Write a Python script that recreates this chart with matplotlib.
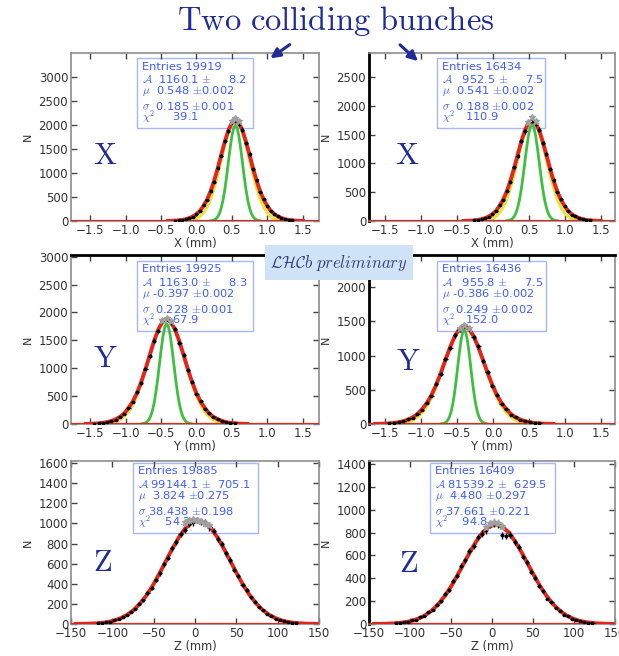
import numpy as np
import matplotlib
matplotlib.use("Agg")
import matplotlib.pyplot as plt
from matplotlib.patches import Rectangle

plt.rcParams['font.family'] = ['DejaVu Sans']
plt.rcParams['mathtext.fontset'] = 'cm'

#-------------------------------------------------------------------------------
# values
#-------------------------------------------------------------------------------

### X, bunch 1 (top left) ------------------------------------------------------
x1_centre = 0.55
x1_step = 0.05
x1_counts = [1, 3, 9, 12, 26, 35, 66, 90, 150, 204, 330, 430, 632, 820, 1110,
             1360, 1672, 1870, 2060, 2095, 2030, 1905, 1630, 1392, 1080, 850,
             605, 458, 310, 218, 136, 99, 57, 40, 20, 15, 6, 3, 1]
x1_fit = [2, 4, 8, 14, 23, 38, 61, 95, 143, 210, 317, 445, 617, 838, 1094, 1376,
          1651, 1886, 2043, 2100, 2043, 1886, 1651, 1376, 1094, 838, 617, 445,
          317, 210, 143, 95, 61, 38, 23, 14, 8, 4, 2]
x1_yellow_step = 0.05
x1_yellow = [5, 11, 23, 48, 92, 167, 284, 454, 682, 961, 1274, 1585, 1853, 2035,
             2100, 2035, 1853, 1585, 1274, 961, 682, 454, 284, 167, 92, 48, 23,
             11, 5]
x1_green_step = 0.025
x1_green = [4, 10, 22, 46, 88, 159, 271, 433, 649, 916, 1213, 1510, 1765, 1938,
            2000, 1938, 1765, 1510, 1213, 916, 649, 433, 271, 159, 88, 46, 22,
            10, 4]
x1_peak_x = [0.50, 0.55, 0.60]
x1_peak_n = [2080, 2140, 2090]
x1_stats = ["Entries 19919", r"$\mathcal{A}$  1160.1 $\pm$     8.2",
            r"$\mu$  0.548 $\pm$0.002", r"$\sigma$  0.185 $\pm$0.001",
            r"$\chi^2$     39.1"]

### X, bunch 2 (top right) -----------------------------------------------------
x2_centre = 0.54
x2_step = 0.05
x2_counts = [1, 3, 7, 10, 22, 30, 55, 74, 126, 168, 275, 360, 530, 684, 930,
             1130, 1395, 1560, 1720, 1745, 1690, 1590, 1360, 1160, 898, 712,
             505, 380, 256, 182, 112, 84, 47, 34, 17, 12, 5, 3, 1]
x2_fit = [2, 4, 6, 11, 19, 32, 51, 79, 119, 175, 264, 371, 515, 698, 912, 1146,
          1376, 1572, 1703, 1750, 1703, 1572, 1376, 1146, 912, 698, 515, 371,
          264, 175, 119, 79, 51, 32, 19, 11, 6, 4, 2]
x2_yellow_step = 0.05
x2_yellow = [4, 9, 19, 40, 77, 139, 237, 379, 568, 801, 1061, 1321, 1544, 1696,
             1750, 1696, 1544, 1321, 1061, 801, 568, 379, 237, 139, 77, 40, 19,
             9, 4]
x2_green_step = 0.025
x2_green = [4, 9, 19, 38, 74, 134, 227, 363, 545, 769, 1019, 1268, 1483, 1628,
            1680, 1628, 1483, 1268, 1019, 769, 545, 363, 227, 134, 74, 38, 19,
            9, 4]
x2_peak_x = [0.49, 0.54, 0.59]
x2_peak_n = [1715, 1800, 1730]
x2_stats = ["Entries 16434", r"$\mathcal{A}$   952.5 $\pm$     7.5",
            r"$\mu$  0.541 $\pm$0.002", r"$\sigma$  0.188 $\pm$0.002",
            r"$\chi^2$   110.9"]

### Y, bunch 1 (middle left) ---------------------------------------------------
y1_centre = -0.42
y1_step = 0.06
y1_counts = [1, 4, 8, 11, 24, 31, 58, 80, 134, 180, 295, 390, 565, 735, 995,
             1215, 1495, 1670, 1850, 1890, 1815, 1700, 1460, 1245, 965, 760,
             540, 410, 276, 195, 122, 88, 51, 36, 19, 13, 6, 3, 1]
y1_fit = [2, 4, 7, 12, 21, 34, 55, 85, 128, 188, 284, 399, 553, 750, 979, 1231,
          1478, 1688, 1829, 1880, 1829, 1688, 1478, 1231, 979, 750, 553, 399,
          284, 188, 128, 85, 55, 34, 21, 12, 7, 4, 2]
y1_yellow_step = 0.065
y1_yellow = [4, 9, 21, 43, 83, 150, 254, 407, 610, 861, 1140, 1419, 1659, 1822,
             1880, 1822, 1659, 1419, 1140, 861, 610, 407, 254, 150, 83, 43, 21,
             9, 4]
y1_green_step = 0.025
y1_green = [4, 9, 20, 41, 79, 143, 244, 389, 584, 824, 1092, 1359, 1589, 1745,
            1800, 1745, 1589, 1359, 1092, 824, 584, 389, 244, 143, 79, 41, 20,
            9, 4]
y1_peak_x = [-0.48, -0.42, -0.36]
y1_peak_n = [1860, 1900, 1850]
y1_stats = ["Entries 19925", r"$\mathcal{A}$  1163.0 $\pm$     8.3",
            r"$\mu$ -0.397 $\pm$0.002", r"$\sigma$  0.228 $\pm$0.001",
            r"$\chi^2$     67.9"]

### Y, bunch 2 (middle right) --------------------------------------------------
y2_centre = -0.40
y2_step = 0.065
y2_counts = [1, 2, 6, 10, 14, 28, 38, 68, 92, 150, 208, 312, 410, 585, 730, 950,
             1110, 1295, 1380, 1440, 1400, 1270, 1135, 925, 760, 560, 430, 295,
             222, 138, 101, 60, 44, 24, 17, 8, 5, 2, 1]
y2_fit = [1, 3, 5, 9, 16, 26, 41, 64, 97, 143, 216, 303, 420, 571, 745, 937,
          1124, 1284, 1391, 1430, 1391, 1284, 1124, 937, 745, 571, 420, 303,
          216, 143, 97, 64, 41, 26, 16, 9, 5, 3, 1]
y2_yellow_step = 0.07
y2_yellow = [3, 7, 16, 33, 63, 114, 193, 309, 464, 655, 867, 1079, 1262, 1386,
             1430, 1386, 1262, 1079, 867, 655, 464, 309, 193, 114, 63, 33, 16,
             7, 3]
y2_green_step = 0.0225
y2_green = [3, 7, 15, 31, 61, 110, 187, 298, 448, 632, 837, 1042, 1218, 1337,
            1380, 1337, 1218, 1042, 837, 632, 448, 298, 187, 110, 61, 31, 15,
            7, 3]
y2_peak_x = [-0.465, -0.40, -0.335]
y2_peak_n = [1400, 1450, 1410]
y2_stats = ["Entries 16436", r"$\mathcal{A}$   955.8 $\pm$     7.5",
            r"$\mu$ -0.386 $\pm$0.002", r"$\sigma$  0.249 $\pm$0.002",
            r"$\chi^2$   152.0"]

### Z, both bunches (bottom row), 5 mm bins ------------------------------------
z_bins = np.arange(-122.5, 128.0, 5.0)
z_fit_step = 7.8

z1_counts = [5, 9, 11, 19, 24, 37, 47, 70, 86, 121, 148, 200, 238, 306, 357,
             441, 503, 594, 660, 752, 815, 894, 938, 995, 1010, 1034, 1018,
             1012, 960, 925, 848, 792, 702, 636, 541, 478, 392, 338, 265, 222,
             168, 138, 99, 81, 54, 44, 28, 22, 14, 11, 6]
z1_centre = 3.8
z1_fit = [1, 2, 3, 6, 11, 20, 35, 58, 92, 139, 204, 286, 386, 502, 625, 748,
          860, 951, 1009, 1030, 1009, 951, 860, 748, 625, 502, 386, 286, 204,
          139, 92, 58, 35, 20, 11, 6, 3, 2, 1]
z1_peak_x = [-12.5, -7.5, -2.5, 2.5, 7.5, 12.5, 17.5]
z1_peak_n = [1010, 1030, 1040, 1035, 1025, 1000, 985]
z1_stats = ["Entries 19885", r"$\mathcal{A}$ 99144.1 $\pm$  705.1",
            r"$\mu$  3.824 $\pm$0.275", r"$\sigma$ 38.438 $\pm$0.198",
            r"$\chi^2$    54.2"]

z2_counts = [4, 8, 9, 16, 20, 32, 39, 60, 72, 104, 124, 170, 198, 262, 300, 378,
             422, 508, 556, 642, 684, 762, 790, 818, 868, 880, 872, 775, 770,
             782, 715, 672, 590, 540, 458, 405, 330, 288, 222, 190, 140, 118, 83,
             70, 45, 38, 23, 19, 11, 9, 5]
z2_centre = 4.5
z2_fit = [1, 1, 3, 5, 10, 17, 30, 49, 77, 118, 172, 242, 326, 424, 528, 632,
          726, 803, 853, 870, 853, 803, 726, 632, 528, 424, 326, 242, 172, 118,
          77, 49, 30, 17, 10, 5, 3, 1, 1]
z2_peak_x = [-7.5, -2.5, 2.5, 7.5, 12.5]
z2_peak_n = [850, 880, 895, 885, 860]
z2_stats = ["Entries 16409", r"$\mathcal{A}$ 81539.2 $\pm$  629.5",
            r"$\mu$  4.480 $\pm$0.297", r"$\sigma$ 37.661 $\pm$0.221",
            r"$\chi^2$    94.8"]

#-------------------------------------------------------------------------------
# styling
#-------------------------------------------------------------------------------
RED = '#e3261b'
YELLOW = '#e6e63c'
GREEN = '#3fbf3f'
GREY = '#a0a0a0'
NAVY = '#1f2b98'
STAT_TXT = '#3d5cff'
STAT_EDGE = '#a8b6ff'
SPINE = '#8c8c8c'

W, H = 619, 656


def samples(centre, step, values):
    half = len(values) // 2
    return centre + step * (np.arange(len(values)) - half)


def px_axes(x0, y0, x1, y1):
    # axes rectangle given in picture pixels (top-left origin)
    return [x0 / W, 1 - y1 / H, (x1 - x0) / W, (y1 - y0) / H]


fig = plt.figure(figsize=(W / 100, H / 100), dpi=100)

panels = [
    dict(rect=(71, 53, 319, 221), xlim=(-1.77, 1.73), ylim=(0, 3500),
         xt=np.arange(-1.5, 1.6, 0.5), yt=np.arange(0, 3001, 500),
         xlabel='X (mm)', letter='X', letter_pos=(0.137, 0.39),
         box=(137, 58, 253, 128),
         hx=samples(x1_centre, x1_step, x1_counts), hn=x1_counts, hw=x1_step,
         fx=samples(x1_centre, x1_step, x1_fit), fn=x1_fit,
         yx=samples(x1_centre, x1_yellow_step, x1_yellow), yn=x1_yellow,
         gx=samples(x1_centre, x1_green_step, x1_green), gn=x1_green,
         px=x1_peak_x, pn=x1_peak_n, stats=x1_stats, black=[]),
    dict(rect=(369, 53, 615, 221), xlim=(-1.72, 1.69), ylim=(0, 2920),
         xt=np.arange(-1.5, 1.6, 0.5), yt=np.arange(0, 2501, 500),
         xlabel='X (mm)', letter='X', letter_pos=(0.154, 0.39),
         box=(437, 58, 545, 128),
         hx=samples(x2_centre, x2_step, x2_counts), hn=x2_counts, hw=x2_step,
         fx=samples(x2_centre, x2_step, x2_fit), fn=x2_fit,
         yx=samples(x2_centre, x2_yellow_step, x2_yellow), yn=x2_yellow,
         gx=samples(x2_centre, x2_green_step, x2_green), gn=x2_green,
         px=x2_peak_x, pn=x2_peak_n, stats=x2_stats, black=['left']),
    dict(rect=(71, 255, 319, 424), xlim=(-1.77, 1.73), ylim=(0, 3030),
         xt=np.arange(-1.5, 1.6, 0.5), yt=np.arange(0, 3001, 500),
         xlabel='Y (mm)', letter='Y', letter_pos=(0.137, 0.39),
         box=(137, 261, 253, 331),
         hx=samples(y1_centre, y1_step, y1_counts), hn=y1_counts, hw=y1_step,
         fx=samples(y1_centre, y1_step, y1_fit), fn=y1_fit,
         yx=samples(y1_centre, y1_yellow_step, y1_yellow), yn=y1_yellow,
         gx=samples(y1_centre, y1_green_step, y1_green), gn=y1_green,
         px=y1_peak_x, pn=y1_peak_n, stats=y1_stats, black=['top']),
    dict(rect=(369, 255, 615, 424), xlim=(-1.72, 1.69), ylim=(0, 2470),
         xt=np.arange(-1.5, 1.6, 0.5), yt=np.arange(0, 2001, 500),
         xlabel='Y (mm)', letter='Y', letter_pos=(0.159, 0.37),
         box=(437, 261, 546, 331),
         hx=samples(y2_centre, y2_step, y2_counts), hn=y2_counts, hw=y2_step,
         fx=samples(y2_centre, y2_step, y2_fit), fn=y2_fit,
         yx=samples(y2_centre, y2_yellow_step, y2_yellow), yn=y2_yellow,
         gx=samples(y2_centre, y2_green_step, y2_green), gn=y2_green,
         px=y2_peak_x, pn=y2_peak_n, stats=y2_stats, black=['top', 'left']),
    dict(rect=(71, 461, 319, 624), xlim=(-150, 150), ylim=(0, 1620),
         xt=np.arange(-150, 151, 50), yt=np.arange(0, 1601, 200),
         xlabel='Z (mm)', letter='Z', letter_pos=(0.125, 0.38),
         box=(133, 463, 258, 533),
         hx=z_bins, hn=z1_counts, hw=5.0,
         fx=samples(z1_centre, z_fit_step, z1_fit), fn=z1_fit,
         yx=None, yn=None, gx=None, gn=None,
         px=z1_peak_x, pn=z1_peak_n, stats=z1_stats, black=[]),
    dict(rect=(369, 461, 615, 624), xlim=(-150, 150), ylim=(0, 1426),
         xt=np.arange(-150, 151, 50), yt=np.arange(0, 1401, 200),
         xlabel='Z (mm)', letter='Z', letter_pos=(0.159, 0.37),
         box=(430, 463, 555, 533),
         hx=z_bins, hn=z2_counts, hw=5.0,
         fx=samples(z2_centre, z_fit_step, z2_fit), fn=z2_fit,
         yx=None, yn=None, gx=None, gn=None,
         px=z2_peak_x, pn=z2_peak_n, stats=z2_stats, black=['left']),
]

for p in panels:
    x0, y0, x1, y1 = p['rect']
    ax = fig.add_axes(px_axes(x0, y0, x1, y1))
    wpx, hpx = x1 - x0, y1 - y0

    # statistics box (drawn under the data, as in the original)
    bx0, by0, bx1, by1 = p['box']
    fx0 = (bx0 - x0) / wpx
    fx1 = (bx1 - x0) / wpx
    ftop = (y1 - by0) / hpx
    fbot = (y1 - by1) / hpx
    ax.add_patch(Rectangle((fx0, fbot), fx1 - fx0, ftop - fbot,
                           transform=ax.transAxes, facecolor='white',
                           edgecolor=STAT_EDGE, lw=1.0, zorder=1))
    for line, off in zip(p['stats'], [8.5, 21.5, 33.0, 48.0, 59.0]):
        ax.text(fx0 + 5 / wpx, ftop - off / hpx, line, transform=ax.transAxes,
                fontsize=8.2, color=STAT_TXT, ha='left', va='center', zorder=1.5)

    # fit components
    if p['gx'] is not None:
        ax.plot(p['gx'], p['gn'], color=GREEN, lw=2.0, zorder=2)
        ax.plot(p['yx'], p['yn'], color=YELLOW, lw=2.2, zorder=2.5)
    ax.axhline(0, color=RED, lw=1.6, zorder=2.8)
    ax.plot(p['fx'], p['fn'], color=RED, lw=2.8, zorder=3)

    # measured histogram
    hn = np.asarray(p['hn'], dtype=float)
    keep = hn >= 8
    hx = np.asarray(p['hx'])[keep]
    hn = hn[keep]
    ax.errorbar(hx, hn, xerr=p['hw'] / 2, yerr=np.sqrt(hn), fmt='s', ms=1.6,
                color='k', ecolor='k', elinewidth=1.0, capsize=0, zorder=4)
    ax.errorbar(p['px'], p['pn'], xerr=p['hw'] / 2,
                yerr=np.sqrt(np.asarray(p['pn'], dtype=float)), fmt='*',
                ms=5, color=GREY, ecolor=GREY, elinewidth=1.0, capsize=0,
                zorder=4.5)

    ax.set_xlim(*p['xlim'])
    ax.set_ylim(*p['ylim'])
    ax.set_xticks(p['xt'])
    ax.set_yticks(p['yt'])
    ax.tick_params(direction='in', top=True, right=True, length=4, width=1,
                   color='#444444', labelsize=8.5, labelcolor='#333333', pad=2)
    ax.set_xlabel(p['xlabel'], fontsize=8.3, color='#333333', labelpad=0)
    ax.set_ylabel('N', fontsize=8, color='#333333', labelpad=4)
    for side, sp in ax.spines.items():
        if side in p['black']:
            sp.set_color('black')
            sp.set_linewidth(2.0)
        else:
            sp.set_color(SPINE)
            sp.set_linewidth(1.2)

    # big coordinate letter
    ax.text(p['letter_pos'][0], p['letter_pos'][1], r'$\mathrm{%s}$' % p['letter'],
            transform=ax.transAxes, fontsize=22, color=NAVY,
            ha='center', va='center', zorder=6)

# overlay in picture pixels: title, arrows, LHCb tag
ov = fig.add_axes([0, 0, 1, 1], zorder=10)
ov.set_xlim(0, W)
ov.set_ylim(H, 0)
ov.axis('off')
ov.patch.set_alpha(0)

ov.text(336, 21, r'$\mathrm{Two\ colliding\ bunches}$', fontsize=23.5,
        color=NAVY, ha='center', va='center')
ov.annotate('', xy=(268, 60), xytext=(292, 43),
            arrowprops=dict(arrowstyle='-|>', color=NAVY, lw=2.2,
                            mutation_scale=14))
ov.annotate('', xy=(420, 63), xytext=(398, 43),
            arrowprops=dict(arrowstyle='-|>', color=NAVY, lw=2.2,
                            mutation_scale=14))
ov.add_patch(Rectangle((265, 245), 148, 35, facecolor='#d0e3f6',
                       edgecolor='none'))
ov.text(339, 263, r'$\mathcal{LHC}b\ \mathit{preliminary}$', fontsize=12,
        color='#34407a', ha='center', va='center')

fig.savefig('out.png', dpi=100)
